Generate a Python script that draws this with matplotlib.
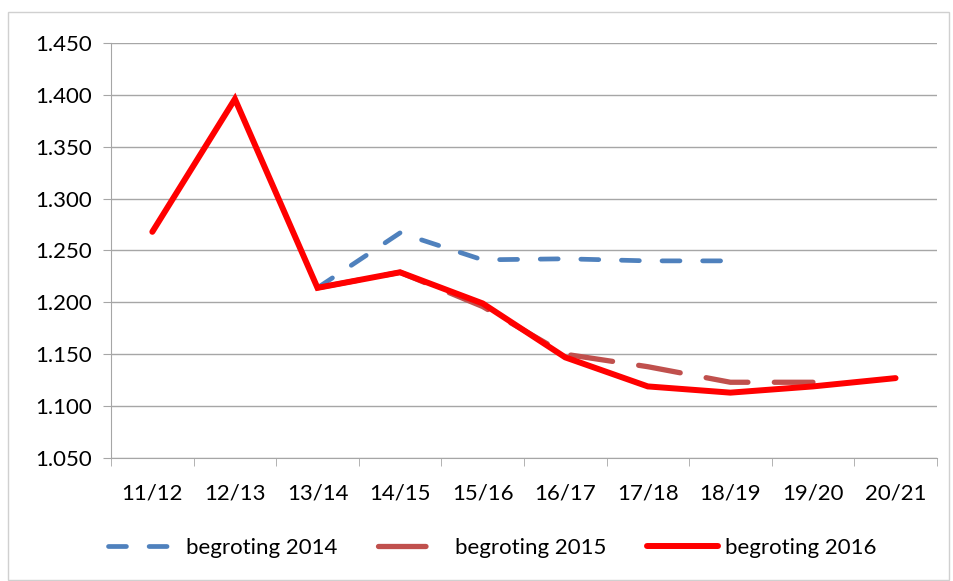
import numpy as np
import matplotlib
matplotlib.use("Agg")
from matplotlib import pyplot as plt
from matplotlib.patches import Rectangle
from matplotlib.lines import Line2D
from matplotlib.ticker import FuncFormatter, FixedLocator

years = ["11/12", "12/13", "13/14", "14/15", "15/16", "16/17", "17/18", "18/19", "19/20", "20/21"]

# begroting 2014 : 13/14 .. 18/19
b2014_x = [2, 3, 4, 5, 6, 7]
b2014 = [1.214, 1.267, 1.241, 1.242, 1.240, 1.240]

# begroting 2015 : 13/14 .. 19/20
b2015_x = [2, 3, 4, 5, 6, 7, 8]
b2015 = [1.214, 1.229, 1.196, 1.150, 1.138, 1.123, 1.123]

# begroting 2016 : 11/12 .. 20/21
b2016_x = [0, 1, 2, 3, 4, 5, 6, 7, 8, 9]
b2016 = [1.268, 1.396, 1.214, 1.229, 1.199, 1.147, 1.119, 1.113, 1.119, 1.127]

plt.rcParams['font.family'] = ['Lato', 'DejaVu Sans']

fig = plt.figure(figsize=(9.54, 5.81), dpi=100)
ax = fig.add_axes([0.1164, 0.2117, 0.8656, 0.7143])

fig.patches.append(Rectangle((8/954, 0.002), 0.995 - 8/954, 1 - 12/581 - 0.002,
                             transform=fig.transFigure, fill=False,
                             edgecolor='#d0d0d0', linewidth=1))

ax.plot(b2014_x, b2014, color='#4f81bd', lw=3.4, dashes=(3.8, 4.8),
        dash_capstyle='round', solid_capstyle='round')
ax.plot(b2015_x, b2015, color='#c0504d', lw=3.8, dashes=(8, 5),
        dash_capstyle='round', solid_capstyle='round')
ax.plot(b2016_x, b2016, color='#ff0000', lw=4.3,
        solid_capstyle='round', solid_joinstyle='miter')

ax.set_xlim(-0.5, 9.5)
ax.set_ylim(1.05, 1.45)
ax.set_yticks(np.arange(1.05, 1.451, 0.05))
ax.yaxis.set_major_formatter(FuncFormatter(lambda v, p: f"{v:.3f}"))
ax.grid(axis='y', color='#a6a6a6', lw=1)
ax.set_axisbelow(True)

ax.set_xticks(range(len(years)))
ax.set_xticklabels(years)
ax.xaxis.set_minor_locator(FixedLocator(np.arange(-0.5, 9.6, 1)))
ax.tick_params(axis='x', which='major', length=0, pad=18, labelsize=16)
ax.tick_params(axis='x', which='minor', length=6, color='#a6a6a6', direction='out')
ax.tick_params(axis='y', length=6, color='#a6a6a6', labelsize=16, pad=8)

for s in ['top', 'right']:
    ax.spines[s].set_visible(False)
for s in ['left', 'bottom']:
    ax.spines[s].set_color('#a6a6a6')

# legend handles (own dash pattern so 2015 shows a single dash like the original)
handles = [
    Line2D([], [], color='#4f81bd', lw=3.4, dashes=(3.8, 4.8), dash_capstyle='round'),
    Line2D([], [], color='#c0504d', lw=3.8, dashes=(9, 7), dash_capstyle='round'),
    Line2D([], [], color='#ff0000', lw=4.3, solid_capstyle='round'),
]
labels = ['begroting 2014', 'begroting 2015', 'begroting 2016']
fig.legend(handles, labels, loc='center', bbox_to_anchor=(0.516, 0.057), ncol=3,
           frameon=False, fontsize=16, handlelength=3.2, columnspacing=1.8,
           handletextpad=0.3)

fig.savefig('out.png', dpi=100)
